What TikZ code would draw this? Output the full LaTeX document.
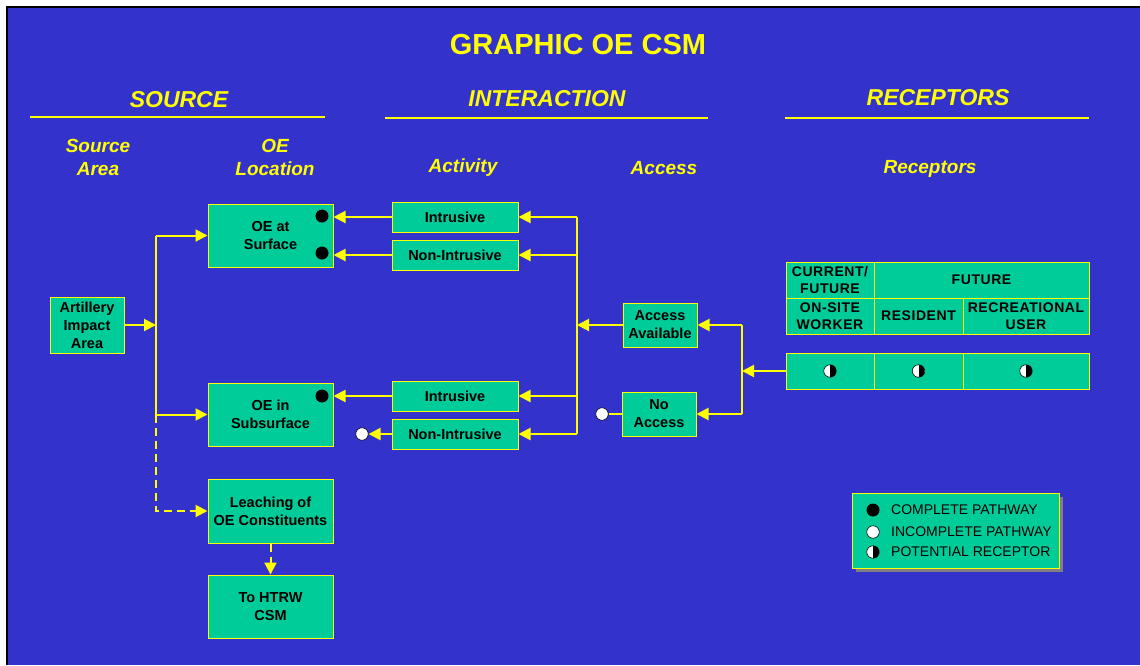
\documentclass[tikz,border=0pt]{standalone}
\usepackage{fontspec}
\setmainfont{Liberation Sans}
\newfontfamily\cellfont[LetterSpace=4]{Liberation Sans}
\usetikzlibrary{arrows.meta,positioning,calc,shadows}
\definecolor{slide}{HTML}{3333CC}
\definecolor{oegreen}{HTML}{00CC99}
\definecolor{hilite}{HTML}{FFFF00}

\tikzset{
  box/.style={draw=hilite,fill=oegreen,line width=1pt,align=center,inner sep=0pt,text=black,
    font=\bfseries\fontsize{14.5}{18}\selectfont},
  cell/.style={box,font=\cellfont\bfseries\fontsize{14}{17.5}\selectfont,minimum height=36pt},
  head/.style={text=hilite,font=\bfseries\itshape\fontsize{23}{26}\selectfont},
  subhead/.style={text=hilite,align=center,font=\bfseries\itshape\fontsize{19}{23}\selectfont},
  rule/.style={hilite,line width=2.5pt},
  link/.style={hilite,line width=2pt},
  arr/.style={link,-{Triangle[length=12pt,width=12pt]}},
  fulldot/.style={circle,fill=black,minimum size=13pt,inner sep=0pt},
  opendot/.style={circle,draw=black,fill=white,line width=0.6pt,minimum size=12.5pt,inner sep=0pt},
  halfdot/.style={opendot,path picture={\fill[black] (path picture bounding box.north) rectangle (path picture bounding box.south east);}},
  keytext/.style={anchor=west,inner sep=0pt,text=black,font=\fontsize{14}{16}\selectfont}
}

\begin{document}
\begin{tikzpicture}[x=1pt,y=-1pt]
  \useasboundingbox (0,0) rectangle (1140,665);
  \fill[white] (0,0) rectangle (1140,665);
  \fill[slide] (7,7) rectangle (1140,665);
  \draw[black,line width=1.5pt] (7,665) -- (7,7) -- (1140,7);

  % Headings
  \node[text=hilite,font=\bfseries\fontsize{29}{32}\selectfont] (title) at (578,45) {GRAPHIC OE CSM};
  \node[head] (srchead) at (179,100) {SOURCE};
  \node[head] (acthead) at (547,99) {INTERACTION};
  \node[head] (rechead) at (938,98) {RECEPTORS};
  \draw[rule] (30,117) -- (325,117);
  \draw[rule] (385,118) -- (708,118);
  \draw[rule] (785,118) -- (1089,118);
  \node[subhead] (areahead) at (98,157) {Source\\Area};
  \node[subhead] (lochead) at (275,157) {OE\\Location};
  \node[subhead] (activhead) at (463,168) {Activity};
  \node[subhead] (accesshead) at (664,168) {Access};
  \node[subhead] (recphead) at (930,169) {Receptors};

  % Source
  \node[box,minimum width=74pt,minimum height=56pt] (art) at (87,325) {Artillery\\Impact\\Area};
  \node[box,minimum width=125pt,minimum height=63pt] (surf) at (270.5,235.5) {OE at\\Surface};
  \node[box,minimum width=125pt,minimum height=63pt] (subs) at (270.5,414.5) {OE in\\Subsurface};
  \node[box,minimum width=125pt,minimum height=64pt] (leach) at (270.5,511) {Leaching of\\OE Constituents};
  \node[box,minimum width=125pt,minimum height=63pt] (htrw) at (270.5,606.5) {To HTRW\\CSM};
  \coordinate (sbus) at (156,325);
  \draw[arr] (art) -- (art -| sbus);
  \draw[link] (sbus |- surf) -- (sbus |- subs);
  \draw[arr] (sbus |- surf) -- (surf);
  \draw[arr] (sbus |- subs) -- (subs);
  \draw[arr,dash pattern=on 8pt off 5pt] (sbus |- subs) |- (leach);
  \draw[arr,dash pattern=on 8pt off 5pt] (leach) -- (htrw);
  \node[fulldot] (dot1) at (322,216) {};
  \node[fulldot] (dot2) at (322,253) {};
  \node[fulldot] (dot3) at (322,396) {};

  % Activity
  \node[box,minimum width=126pt,minimum height=30pt] (intr1) at (455,217) {Intrusive};
  \node[box,minimum width=126pt,minimum height=30pt] (nonintr1) at (455,255) {Non-Intrusive};
  \node[box,minimum width=126pt,minimum height=30pt] (intr2) at (455,396) {Intrusive};
  \node[box,minimum width=126pt,minimum height=30pt] (nonintr2) at (455,434) {Non-Intrusive};
  \node[opendot] (open2) at (362,434) {};
  \draw[arr] (intr1) -- (surf.east |- intr1);
  \draw[arr] (nonintr1) -- (surf.east |- nonintr1);
  \draw[arr] (intr2) -- (subs.east |- intr2);
  \draw[arr] (nonintr2) -- (open2);
  \coordinate (abus) at (577,325);
  \draw[link] (abus |- intr1) -- (abus |- nonintr2);
  \foreach \act in {intr1,nonintr1,intr2,nonintr2}
    \draw[arr] (abus |- \act) -- (\act);

  % Access
  \node[box,minimum width=74pt,minimum height=44pt] (avail) at (660,325) {Access\\Available};
  \node[box,minimum width=74pt,minimum height=44pt] (noacc) at (659,414) {No\\Access};
  \node[opendot] (open1) at (602,414) {};
  \draw[arr] (avail) -- (avail -| abus);
  \draw[link] (noacc) -- (open1);
  \coordinate (cbus) at (742,371);
  \draw[link] (cbus |- avail) -- (cbus |- noacc);
  \draw[arr] (cbus |- avail) -- (avail);
  \draw[arr] (cbus |- noacc) -- (noacc);

  % Receptors
  \node[cell,minimum width=88pt] (cur) at (830,280) {CURRENT/\\FUTURE};
  \node[cell,minimum width=215pt] (fut) at (981.5,280) {FUTURE};
  \node[cell,minimum width=88pt] (onsite) at (830,316) {ON-SITE\\WORKER};
  \node[cell,minimum width=89pt] (resid) at (918.5,316) {RESIDENT};
  \node[cell,minimum width=126pt] (recr) at (1026,316) {RECREATIONAL\\USER};
  \node[cell,minimum width=88pt] (sym1) at (830,371) {};
  \node[cell,minimum width=89pt] (sym2) at (918.5,371) {};
  \node[cell,minimum width=126pt] (sym3) at (1026,371) {};
  \node[halfdot] (pot1) at (sym1) {};
  \node[halfdot] (pot2) at (sym2) {};
  \node[halfdot] (pot3) at (sym3) {};
  \draw[arr] (sym1) -- (sym1 -| cbus);

  % Legend
  \node[box,minimum width=207pt,minimum height=75pt,
    general shadow={fill=gray,shadow xshift=4pt,shadow yshift=-4pt}] (legend) at (955.5,530.5) {};
  \node[fulldot] (keyfull) at (873,510) {};
  \node[opendot] (keyopen) at (873,532) {};
  \node[halfdot] (keyhalf) at (873,552) {};
  \node[keytext] (keyfulltext) at (891,510) {COMPLETE PATHWAY};
  \node[keytext] (keyopentext) at (891,532) {INCOMPLETE PATHWAY};
  \node[keytext] (keyhalftext) at (891,552) {POTENTIAL RECEPTOR};
\end{tikzpicture}
\end{document}
